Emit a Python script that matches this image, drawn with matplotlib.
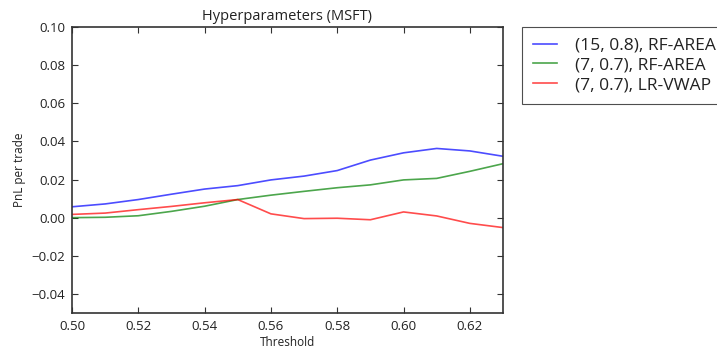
import matplotlib
matplotlib.use('Agg')
import matplotlib.pyplot as plt

plt.rcParams['font.family'] = ['Open Sans', 'DejaVu Sans']

thresholds = [0.50, 0.51, 0.52, 0.53, 0.54, 0.55, 0.56, 0.57, 0.58, 0.59, 0.60, 0.61, 0.62, 0.63]
rf_area_15 = [0.0057, 0.0072, 0.0095, 0.0123, 0.0150, 0.0168, 0.0198, 0.0218, 0.0247, 0.0302, 0.0340, 0.0363, 0.0350, 0.0322]
rf_area_7 = [0.0000, 0.0002, 0.0010, 0.0033, 0.0060, 0.0095, 0.0118, 0.0138, 0.0157, 0.0172, 0.0198, 0.0206, 0.0243, 0.0283]
lr_vwap_7 = [0.0017, 0.0024, 0.0042, 0.0059, 0.0078, 0.0095, 0.0020, -0.0005, -0.0003, -0.0011, 0.0030, 0.0009, -0.0030, -0.0052]

labels = ['(15, 0.8), RF-AREA', '(7, 0.7), RF-AREA', '(7, 0.7), LR-VWAP']

fig = plt.figure(figsize=(7.17, 3.49), dpi=100)
ax = fig.add_axes([0.1004, 0.1032, 0.6011, 0.8194])

ax.plot(thresholds, rf_area_15, color='b', alpha=0.7, lw=1.2, label=labels[0])
ax.plot(thresholds, rf_area_7, color='g', alpha=0.7, lw=1.2, label=labels[1])
ax.plot(thresholds, lr_vwap_7, color='r', alpha=0.7, lw=1.2, label=labels[2])

ax.set_xlim(0.50, 0.63)
ax.set_ylim(-0.05, 0.10)
ax.set_xticks([0.50, 0.52, 0.54, 0.56, 0.58, 0.60, 0.62])
ax.set_yticks([-0.04, -0.02, 0.00, 0.02, 0.04, 0.06, 0.08, 0.10])
ax.set_xticklabels(['0.50', '0.52', '0.54', '0.56', '0.58', '0.60', '0.62'])
ax.set_yticklabels(['\u22120.04', '\u22120.02', '0.00', '0.02', '0.04', '0.06', '0.08', '0.10'])
ax.tick_params(direction='in', top=True, right=True, length=4, width=0.8,
               labelsize=9.5, colors='#333333', labelcolor='#222222', pad=5)
for s in ax.spines.values():
    s.set_color('#333333')
    s.set_linewidth(1.2)

ax.set_title('Hyperparameters (MSFT)', fontsize=10.5, color='#222222', pad=5)
ax.set_xlabel('Threshold', fontsize=8.5, color='#222222', labelpad=2)
ax.set_ylabel('PnL per trade', fontsize=8.5, color='#222222', labelpad=4)

leg = ax.legend(loc='upper left', bbox_to_anchor=(1.045, 1.0), fontsize=12.5,
                frameon=True, fancybox=False, borderaxespad=0.0,
                handlelength=1.4, handletextpad=1.05,
                labelspacing=0.22, borderpad=0.6)
leg.get_frame().set_edgecolor('#222222')
leg.get_frame().set_linewidth(0.8)
for t in leg.get_texts():
    t.set_color('#222222')

fig.savefig('out.png', dpi=100)
